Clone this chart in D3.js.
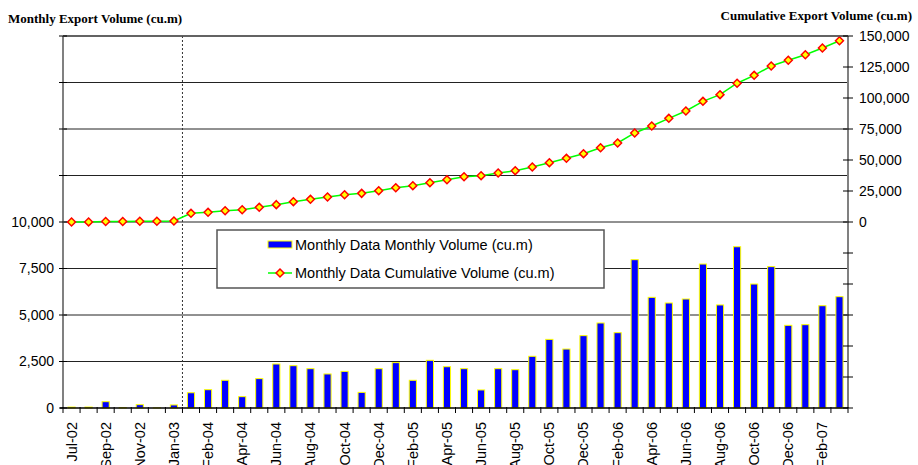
<!DOCTYPE html>
<html lang="en">
<head>
<meta charset="UTF-8">
<title>Monthly Export Volume</title>
<script src="https://d3js.org/d3.v7.min.js"></script>
<style>
    body { margin: 0; background: #fff; }
    svg text { font-family: "Liberation Sans", Arial, sans-serif; }
    .title { font-family: "Liberation Serif", "Times New Roman", serif; font-weight: bold; font-size: 13px; }
</style>
</head>
<body>
<div id="chart"></div>
<script>
    // Data
    const months = ["Jul-02","Aug-02","Sep-02","Oct-02","Nov-02","Dec-02","Jan-03",
        "Jan-04","Feb-04","Mar-04","Apr-04","May-04","Jun-04","Jul-04","Aug-04","Sep-04","Oct-04","Nov-04","Dec-04",
        "Jan-05","Feb-05","Mar-05","Apr-05","May-05","Jun-05","Jul-05","Aug-05","Sep-05","Oct-05","Nov-05","Dec-05",
        "Jan-06","Feb-06","Mar-06","Apr-06","May-06","Jun-06","Jul-06","Aug-06","Sep-06","Oct-06","Nov-06","Dec-06",
        "Jan-07","Feb-07","Mar-07"];
    const monthlyVolume = [50, 50, 340, 20, 180, 10, 165,
        820, 985, 1490, 610, 1580, 2365, 2275, 2115, 1830, 1970, 840, 2115,
        2440, 1490, 2565, 2220, 2115, 970, 2115, 2060, 2780, 3690, 3170, 3890,
        4570, 4050, 7975, 5950, 5645, 5860, 7740, 5540, 8670, 6665, 7600, 4445,
        4480, 5500, 5985];
    const cumulativeVolume = [0, 50, 400, 420, 600, 610, 800,
        7000, 7800, 9100, 9900, 11850, 14000, 16400, 18300, 20200, 22000, 23100, 25250,
        27650, 29300, 31700, 34100, 36500, 37350, 39500, 41400, 44350, 47850, 51350, 55100,
        59900, 63700, 71800, 77400, 83600, 89500, 97300, 102700, 111900, 118300, 125800, 130400,
        134900, 140300, 146200];
    const leftTicks = [0, 2500, 5000, 7500, 10000, 12500, 15000, 17500, 20000];
    const rightTicks = [-150000, -125000, -100000, -75000, -50000, -25000, 0, 25000, 50000, 75000, 100000, 125000, 150000];
    const legendLabels = ["Monthly Data Monthly Volume (cu.m)", "Monthly Data Cumulative Volume (cu.m)"];

    const width = 918, height = 465;
    const plot = { left: 63, right: 848, top: 36, bottom: 408 };

    const svg = d3.select("#chart").append("svg")
        .attr("width", width)
        .attr("height", height);

    const x = d3.scaleBand().domain(months).range([plot.left, plot.right]).padding(0);
    const yLeft = d3.scaleLinear().domain([0, 20000]).range([plot.bottom, plot.top]);
    const yRight = d3.scaleLinear().domain([-150000, 150000]).range([plot.bottom, plot.top]);
    const bw = x.bandwidth();

    // gridlines
    svg.append("g").selectAll("line")
        .data(leftTicks.slice(1))
        .join("line")
        .attr("x1", plot.left).attr("x2", plot.right)
        .attr("y1", d => yLeft(d)).attr("y2", d => yLeft(d))
        .attr("stroke", "#222").attr("stroke-width", 1);

    // dotted divider between Jan-03 and Jan-04
    svg.append("line")
        .attr("x1", x("Jan-04")).attr("x2", x("Jan-04"))
        .attr("y1", plot.top).attr("y2", plot.bottom)
        .attr("stroke", "#333").attr("stroke-dasharray", "2,2");

    // bars
    svg.append("g").selectAll("rect")
        .data(months)
        .join("rect")
        .attr("x", d => x(d) + bw * 0.29)
        .attr("width", bw * 0.42)
        .attr("y", (d, i) => yLeft(monthlyVolume[i]))
        .attr("height", (d, i) => plot.bottom - yLeft(monthlyVolume[i]))
        .attr("fill", "#0000ff")
        .attr("stroke", "#ffff00")
        .attr("stroke-width", 1);

    // cumulative line
    const line = d3.line()
        .x((d, i) => x(months[i]) + bw / 2)
        .y(d => yRight(d));
    svg.append("path")
        .datum(cumulativeVolume)
        .attr("d", line)
        .attr("fill", "none")
        .attr("stroke", "#00ff00")
        .attr("stroke-width", 1.5);

    const diamond = d3.symbol().type(d3.symbolDiamond2).size(40);
    svg.append("g").selectAll("path")
        .data(cumulativeVolume)
        .join("path")
        .attr("d", diamond)
        .attr("transform", (d, i) => `translate(${x(months[i]) + bw / 2},${yRight(d)})`)
        .attr("fill", "#ffff00")
        .attr("stroke", "#ff0000")
        .attr("stroke-width", 1.5);

    // axes lines
    svg.append("line")
        .attr("x1", plot.left).attr("x2", plot.left)
        .attr("y1", plot.top).attr("y2", plot.bottom)
        .attr("stroke", "#808080").attr("stroke-width", 2);
    svg.append("line")
        .attr("x1", plot.right).attr("x2", plot.right)
        .attr("y1", plot.top).attr("y2", plot.bottom)
        .attr("stroke", "#808080").attr("stroke-width", 2);
    svg.append("line")
        .attr("x1", plot.left).attr("x2", plot.right)
        .attr("y1", plot.top).attr("y2", plot.top)
        .attr("stroke", "#555").attr("stroke-width", 1.5);
    svg.append("line")
        .attr("x1", plot.left - 3).attr("x2", plot.right)
        .attr("y1", plot.bottom).attr("y2", plot.bottom)
        .attr("stroke", "#000").attr("stroke-width", 1.5);

    // left ticks & labels
    const fmt = d3.format(",");
    svg.append("g").selectAll("line")
        .data(leftTicks)
        .join("line")
        .attr("x1", plot.left - 4).attr("x2", plot.left + 4)
        .attr("y1", d => yLeft(d)).attr("y2", d => yLeft(d))
        .attr("stroke", "#000");
    svg.append("g").selectAll("text")
        .data(leftTicks.filter(d => d <= 10000))
        .join("text")
        .attr("x", plot.left - 9)
        .attr("y", d => yLeft(d))
        .attr("dy", "0.35em")
        .attr("text-anchor", "end")
        .attr("font-size", 14)
        .text(d => fmt(d));

    // right ticks & labels
    svg.append("g").selectAll("line")
        .data(rightTicks)
        .join("line")
        .attr("x1", plot.right - 5).attr("x2", plot.right + 5)
        .attr("y1", d => yRight(d)).attr("y2", d => yRight(d))
        .attr("stroke", "#000");
    svg.append("g").selectAll("text")
        .data(rightTicks.filter(d => d >= 0))
        .join("text")
        .attr("x", plot.right + 11)
        .attr("y", d => yRight(d))
        .attr("dy", "0.35em")
        .attr("font-size", 14)
        .text(d => fmt(d));

    // x ticks at category boundaries
    svg.append("g").selectAll("line")
        .data(months.map(m => x(m)).concat([plot.right]))
        .join("line")
        .attr("x1", d => d).attr("x2", d => d)
        .attr("y1", plot.bottom - 1).attr("y2", plot.bottom + 5)
        .attr("stroke", "#000");
    svg.append("g").selectAll("text")
        .data(months.filter((m, i) => i % 2 === 0))
        .join("text")
        .attr("transform", d => `translate(${x(d) + bw / 2 + 5},${plot.bottom + 14}) rotate(-90)`)
        .attr("text-anchor", "end")
        .attr("font-size", 14.5)
        .text(d => d);

    // titles
    svg.append("text").attr("class", "title")
        .attr("x", 8).attr("y", 23)
        .text("Monthly Export Volume (cu.m)");
    svg.append("text").attr("class", "title")
        .attr("x", 912).attr("y", 20)
        .attr("text-anchor", "end")
        .text("Cumulative Export Volume (cu.m)");

    // legend
    const legend = svg.append("g").attr("transform", "translate(217,230)");
    legend.append("rect")
        .attr("width", 387).attr("height", 58)
        .attr("fill", "#fff")
        .attr("stroke", "#555").attr("stroke-width", 1.5);
    legend.append("rect")
        .attr("x", 51).attr("y", 11).attr("width", 24).attr("height", 7)
        .attr("fill", "#0000ff").attr("stroke", "#ffff00");
    legend.append("line")
        .attr("x1", 51).attr("x2", 75).attr("y1", 43).attr("y2", 43)
        .attr("stroke", "#00ff00").attr("stroke-width", 1.5);
    legend.append("path")
        .attr("d", diamond)
        .attr("transform", "translate(63,43)")
        .attr("fill", "#ffff00").attr("stroke", "#ff0000").attr("stroke-width", 1.5);
    legend.selectAll("text.lbl")
        .data(legendLabels)
        .join("text")
        .attr("class", "lbl")
        .attr("x", 78)
        .attr("y", (d, i) => 15 + i * 28)
        .attr("dy", "0.35em")
        .attr("font-size", 14.5)
        .text(d => d);
</script>
</body>
</html>
